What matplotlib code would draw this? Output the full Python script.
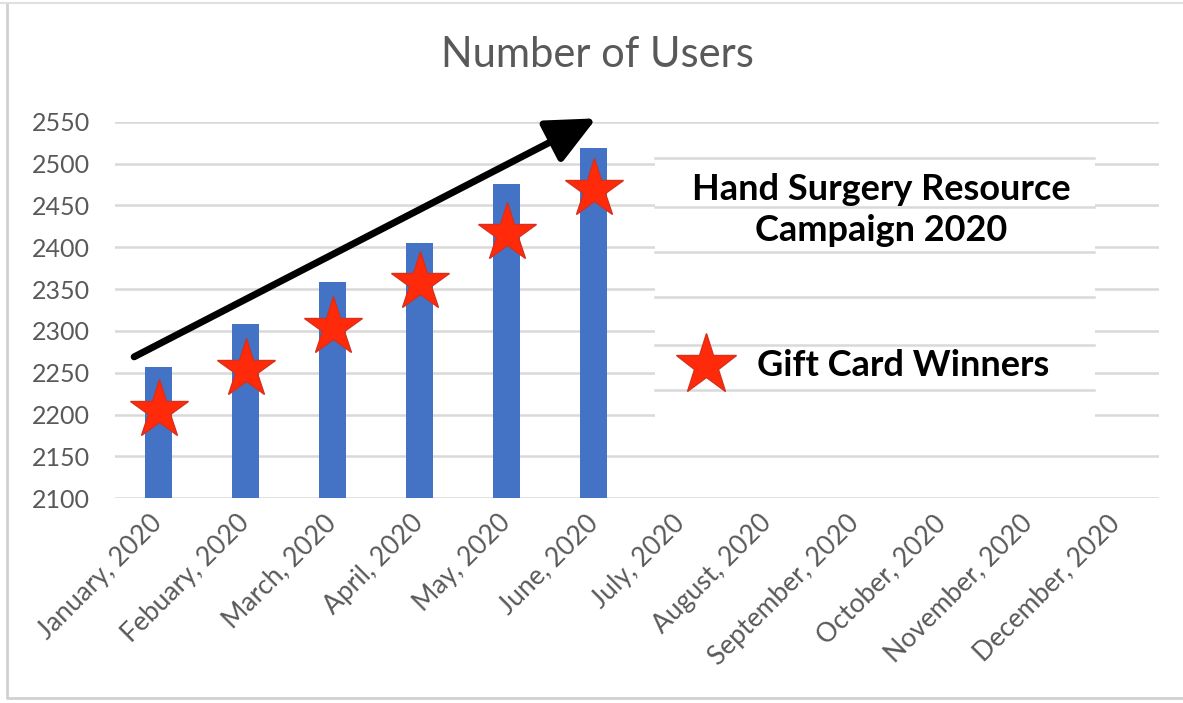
import numpy as np
import matplotlib
matplotlib.use('Agg')
import matplotlib.pyplot as plt
from matplotlib.patches import Rectangle

plt.rcParams['font.family'] = ['Lato', 'DejaVu Sans']

months = ['January, 2020', 'Febuary, 2020', 'March, 2020', 'April, 2020',
          'May, 2020', 'June, 2020', 'July, 2020', 'August, 2020',
          'September, 2020', 'October, 2020', 'November, 2020', 'December, 2020']
users = [2257, 2308, 2359, 2405, 2476, 2519]
winners = [2205, 2255, 2305, 2358, 2417, 2470]
yticks = np.arange(2100, 2551, 50)

grey = '#595959'
gridc = '#d9d9d9'

fig = plt.figure(figsize=(11.83, 7.03), dpi=100)
ax = fig.add_axes([0.0972, 0.2912, 0.8828, 0.5357])

x = np.arange(len(months))
ax.bar(x[:len(users)], users, width=0.31, color='#4472c4', zorder=2)
ax.plot(x[:len(winners)], winners, linestyle='none', marker='*', ms=44,
        mfc='#ff2a0a', mec='#d8301c', mew=1, zorder=4)

ax.set_xlim(-0.5, len(months) - 0.5)
ax.set_ylim(2100, 2550)
ax.set_yticks(yticks)
ax.set_xticks(x)
ax.set_xticklabels(months, rotation=45, ha='right', va='center',
                   rotation_mode='anchor', fontsize=19, color=grey)
ax.tick_params(axis='y', labelsize=18, labelcolor=grey, length=0, pad=18)
ax.tick_params(axis='x', length=0, pad=15)
ax.yaxis.grid(True, color=gridc, lw=1.8, zorder=0)
ax.set_axisbelow(True)
for s in ax.spines.values():
    s.set_visible(False)

# trend arrow
ax.annotate('', xy=(5.03, 2554), xytext=(-0.28, 2269),
            arrowprops=dict(arrowstyle='-|>,head_length=1.5,head_width=0.7',
                            mutation_scale=20, lw=5, color='black',
                            shrinkA=0, shrinkB=0),
            annotation_clip=False, zorder=5)

# pasted caption box
fig.patches.append(Rectangle((0.5537, 0.395), 0.372, 0.39, transform=fig.transFigure,
                             facecolor='white', edgecolor='none', zorder=3))
for yp in [158, 207, 252, 297, 345, 390]:
    fig.add_artist(plt.Line2D([0.5537, 0.9245], [1 - yp / 703, 1 - yp / 703],
                              transform=fig.transFigure, color=gridc, lw=1.8, zorder=3.5))
fig.text(881 / 1183, 1 - 210 / 703, 'Hand Surgery Resource\nCampaign 2020',
         ha='center', va='center', fontsize=26, fontweight='bold',
         linespacing=1.32, color='black', zorder=4)
fig.text(757 / 1183, 1 - 366 / 703, 'Gift Card Winners', ha='left', va='center',
         fontsize=26, fontweight='bold', color='black', zorder=4)
fig.add_artist(plt.Line2D([706 / 1183], [1 - 365 / 703], transform=fig.transFigure,
                          marker='*', ms=46, mfc='#ff2a0a', mec='#d8301c', mew=1,
                          linestyle='none', zorder=4))

fig.text(0.505, 1 - 55 / 703, 'Number of Users', ha='center', va='center',
         fontsize=30, color=grey)

# chart frame
fig.add_artist(plt.Line2D([7 / 1183, 7 / 1183, 1.0], [1 - 4 / 703, 1 - 698 / 703, 1 - 698 / 703],
                          transform=fig.transFigure, color='#d0d0d0', lw=2))
fig.add_artist(plt.Line2D([0, 1.0], [1 - 3 / 703, 1 - 3 / 703],
                          transform=fig.transFigure, color='#e0e0e0', lw=1.5))

fig.savefig('out.png', dpi=100)
